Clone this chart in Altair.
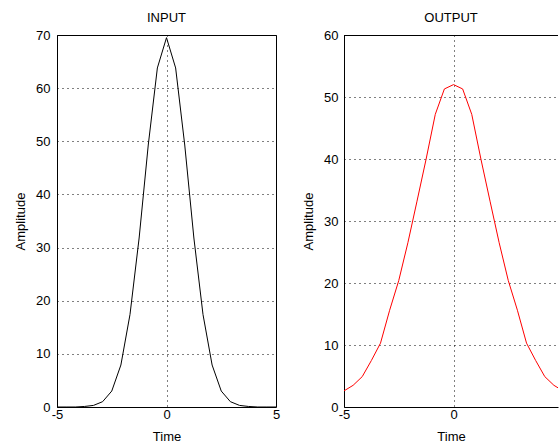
import altair as alt
import pandas as pd

# Sample times (s)
time = [-5.0, -4.583, -4.167, -3.75, -3.333, -2.917, -2.5, -2.083, -1.667, -1.25, -0.833, -0.417,
        0.0, 0.417, 0.833, 1.25, 1.667, 2.083, 2.5, 2.917, 3.333, 3.75, 4.167, 4.583, 5.0]

# INPUT amplitude
input_amp = [0.0, 0.0, 0.0, 0.1, 0.3, 1.0, 3.0, 7.9, 17.4, 31.8, 49.3, 63.8,
             69.5, 63.8, 49.3, 31.8, 17.4, 7.9, 3.0, 1.0, 0.3, 0.1, 0.0, 0.0, 0.0]

# OUTPUT amplitude
output_amp = [2.6, 3.5, 4.9, 7.5, 10.3, 15.6, 20.4, 26.5, 33.2, 40.0, 47.2, 51.3,
              52.0, 51.3, 47.2, 40.0, 33.2, 26.5, 20.4, 15.6, 10.3, 7.5, 4.9, 3.5, 2.6]

in_ticks_y = [0, 10, 20, 30, 40, 50, 60, 70]
out_ticks_y = [0, 10, 20, 30, 40, 50, 60]
x_ticks = [-5, 0, 5]

df_in = pd.DataFrame({"Time": time, "Amplitude": input_amp})
df_out = pd.DataFrame({"Time": time, "Amplitude": output_amp})

FONT = "Liberation Sans"

def x_axis(values, domain_line):
    return alt.Axis(values=values, title="Time", grid=True, gridDash=[1, 4], gridColor="black",
                    gridOpacity=1, ticks=False, domain=domain_line, domainColor="black",
                    labelPadding=1, labelFlush=False, labelColor="black", labelFontSize=13,
                    labelExpr="'' + datum.value",
                    labelFont=FONT, titleFont=FONT, titleFontSize=13, titleFontWeight="normal",
                    titleColor="black", titlePadding=9)

def y_axis(values, domain_line, lab_pad):
    return alt.Axis(values=values, title="Amplitude", grid=True, gridDash=[1, 4], gridColor="black",
                    gridOpacity=1, ticks=False, domain=domain_line, domainColor="black",
                    labelPadding=lab_pad, labelColor="black", labelFontSize=13, labelFont=FONT,
                    titleFont=FONT, titleFontSize=13, titleFontWeight="normal", titleColor="black",
                    titlePadding=8)

left = alt.Chart(df_in).mark_line(color="black", strokeWidth=1).encode(
    x=alt.X("Time:Q", scale=alt.Scale(domain=[-5, 5], nice=False, zero=False), axis=x_axis(x_ticks, False)),
    y=alt.Y("Amplitude:Q", scale=alt.Scale(domain=[0, 70], nice=False), axis=y_axis(in_ticks_y, False, 7)),
).properties(
    width=219, height=372,
    title=alt.TitleParams("INPUT", font=FONT, fontSize=13, fontWeight="normal", color="black", offset=4),
)

out_line = alt.Chart(df_out).mark_line(color="#ff0000", strokeWidth=1, clip=True).encode(
    x=alt.X("Time:Q", scale=alt.Scale(domain=[-5, 4.77], nice=False, zero=False), axis=x_axis([-5, 0], True)),
    y=alt.Y("Amplitude:Q", scale=alt.Scale(domain=[0, 60], nice=False), axis=y_axis(out_ticks_y, True, 6)),
)
top_border = alt.Chart(df_out).mark_rule(color="black", strokeWidth=1, yOffset=0.5).encode(
    y=alt.datum(60)
)

right = alt.layer(out_line, top_border).properties(
    width=214, height=372,
    view=alt.ViewBackground(stroke="transparent"),
    title=alt.TitleParams("OUTPUT", font=FONT, fontSize=13, fontWeight="normal", color="black", offset=4),
)

chart = alt.hconcat(left, right, spacing=68, bounds="flush").properties(
    padding={"left": 14, "top": 11, "right": 0, "bottom": 0},
    background="white",
).configure_view(stroke="black", strokeWidth=1)

chart.save("out.html", embed_options={"renderer": "svg", "actions": False})
